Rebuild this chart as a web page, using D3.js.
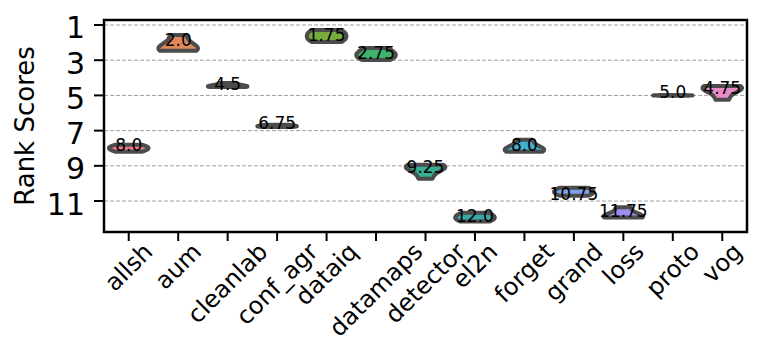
<!DOCTYPE html>
<html>
<head>
<meta charset="utf-8">
<script src="https://cdn.jsdelivr.net/npm/d3@7"></script>
<style>
  body { margin: 0; background: #fff; }
  text { font-family: "DejaVu Sans", sans-serif; }
</style>
</head>
<body>
<div id="chart"></div>
<script>
const W = 761, H = 346;
const margin = { top: 20, right: 14, bottom: 114, left: 104 };

// methods on the x axis
const methods = ["allsh", "aum", "cleanlab", "conf_agr", "dataiq", "datamaps",
  "detector", "el2n", "forget", "grand", "loss", "proto", "vog"];

const rankSamples = [
  [7.81, 7.95, 8.05, 8.2],
  [1.57, 2.2, 2.35, 2.47],
  [4.29, 4.45, 4.5, 4.52],
  [6.67, 6.72, 6.76, 6.79],
  [1.28, 1.5, 1.75, 1.96],
  [2.3, 2.6, 2.75, 2.99],
  [8.94, 9.0, 9.1, 9.3, 9.73],
  [11.66, 11.85, 12.0, 12.17],
  [7.52, 8.0, 8.1, 8.2],
  [10.25, 10.4, 10.55, 10.7],
  [11.36, 11.82, 11.9, 11.93],
  [4.98, 5.0, 5.0, 5.02],
  [4.46, 4.5, 4.6, 4.8, 5.25]
];

// value printed on each violin
const meanLabels = [8.0, 2.0, 4.5, 6.75, 1.75, 2.75, 9.25, 12.0, 8.0, 10.75, 11.75, 5.0, 4.75];

const colors = ["#f07a8c", "#e0885a", "#c49a3a", "#a3a032", "#78ab3e", "#3db36e",
  "#35ae94", "#36aaa8", "#3fb0d0", "#7aa2ee", "#a08cf0", "#c87fe8", "#e88ac8"];

const yTicks = [1, 3, 5, 7, 9, 11];
const yDomain = [0.716, 12.76];

const svg = d3.select("#chart").append("svg")
  .attr("width", W).attr("height", H);

const x = d3.scaleBand().domain(methods)
  .range([margin.left, W - margin.right]).padding(0);
const y = d3.scaleLinear().domain(yDomain)
  .range([margin.top, H - margin.bottom]);

// grid
svg.append("g").selectAll("line")
  .data(yTicks).join("line")
  .attr("x1", margin.left).attr("x2", W - margin.right)
  .attr("y1", d => y(d)).attr("y2", d => y(d))
  .attr("stroke", "#a0a0a0").attr("stroke-width", 1)
  .attr("stroke-dasharray", "4,2");

// kde like seaborn (gaussian, scott bandwidth, cut = 0)
function kde(vals) {
  const n = vals.length;
  const sd = d3.deviation(vals);
  const bw = sd * Math.pow(n, -0.2);
  const [lo, hi] = d3.extent(vals);
  const pts = [];
  for (let i = 0; i <= 60; i++) {
    const g = lo + (hi - lo) * i / 60;
    const dens = d3.sum(vals, v => Math.exp(-0.5 * ((g - v) / bw) ** 2));
    pts.push({ v: g, d: dens });
  }
  return pts;
}

const half = x.bandwidth() * 0.4;

methods.forEach((m, i) => {
  const cx = x(m) + x.bandwidth() / 2;
  const pts = kde(rankSamples[i]);
  const maxD = d3.max(pts, p => p.d);
  const w = d3.scaleLinear().domain([0, maxD]).range([0, half]);
  const area = d3.area()
    .y(p => y(p.v))
    .x0(p => cx - w(p.d))
    .x1(p => cx + w(p.d));
  svg.append("path")
    .attr("d", area(pts))
    .attr("fill", colors[i])
    .attr("stroke", "#4c4c4c")
    .attr("stroke-width", 4)
    .attr("stroke-linejoin", "round");
});

// labels on violins
svg.append("g").selectAll("text")
  .data(meanLabels).join("text")
  .attr("x", (d, i) => x(methods[i]) + x.bandwidth() / 2)
  .attr("y", d => y(d) + 3)
  .attr("text-anchor", "middle")
  .attr("font-size", 17)
  .attr("fill", "#000")
  .text(d => Number.isInteger(d) ? d.toFixed(1) : String(d));

// frame
svg.append("rect")
  .attr("x", margin.left).attr("y", margin.top)
  .attr("width", W - margin.left - margin.right)
  .attr("height", H - margin.top - margin.bottom)
  .attr("fill", "none").attr("stroke", "#000").attr("stroke-width", 2.5);

// y axis ticks + labels
const yAx = svg.append("g");
yAx.selectAll("line").data(yTicks).join("line")
  .attr("x1", margin.left - 10).attr("x2", margin.left)
  .attr("y1", d => y(d)).attr("y2", d => y(d))
  .attr("stroke", "#000").attr("stroke-width", 2);
yAx.selectAll("text").data(yTicks).join("text")
  .attr("x", margin.left - 19)
  .attr("y", d => y(d) + 13.5)
  .attr("text-anchor", "end")
  .attr("font-size", 30)
  .text(d => d);

svg.append("text")
  .attr("transform", `translate(34,${(margin.top + H - margin.bottom) / 2}) rotate(-90)`)
  .attr("text-anchor", "middle")
  .attr("font-size", 26)
  .text("Rank Scores");

// x axis ticks + rotated labels (centered on tick like ha='center')
const base = H - margin.bottom;
const xAx = svg.append("g");
xAx.selectAll("line").data(methods).join("line")
  .attr("x1", d => x(d) + x.bandwidth() / 2).attr("x2", d => x(d) + x.bandwidth() / 2)
  .attr("y1", base).attr("y2", base + 9)
  .attr("stroke", "#000").attr("stroke-width", 2);

const fs = 24;
const labels = xAx.selectAll("text").data(methods).join("text")
  .attr("font-size", fs)
  .attr("text-anchor", "middle")
  .attr("dominant-baseline", "central")
  .text(d => d);
labels.each(function (d) {
  const L = this.getComputedTextLength();
  const hgt = (L + fs) * Math.SQRT1_2;
  const cx = x(d) + x.bandwidth() / 2;
  const cy = base + 7 + hgt / 2;
  d3.select(this).attr("transform", `translate(${cx},${cy}) rotate(-45)`);
});
</script>
</body>
</html>
